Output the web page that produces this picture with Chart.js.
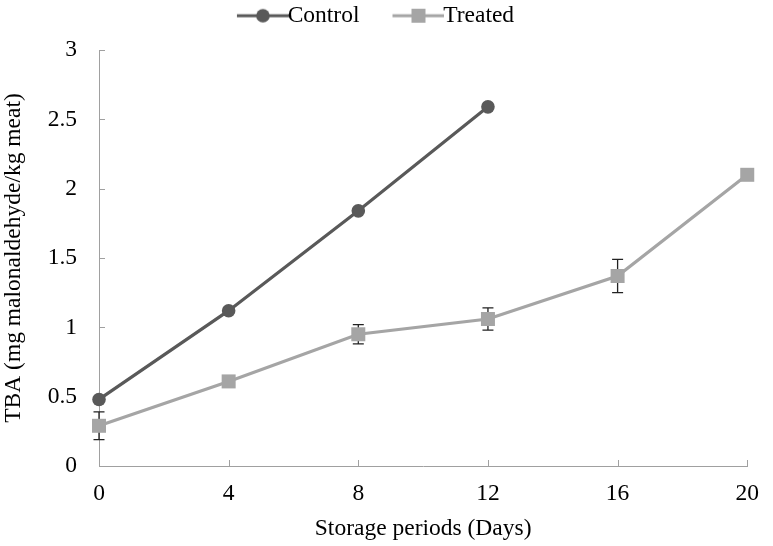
<!DOCTYPE html>
<html><head><meta charset="utf-8">
<script src="https://cdn.jsdelivr.net/npm/chart.js@4"></script>
<style>html,body{margin:0;padding:0;background:#fff;}</style>
</head><body>
<canvas id="c" width="773" height="546" style="display:block"></canvas>
<script>
const days = [0, 4, 8, 12, 16, 20];
const controlDays = [0, 4, 8, 12];
const controlValues = [0.48, 1.12, 1.84, 2.59];
const controlErrors = [0, 0.02, 0, 0];
const treatedValues = [0.29, 0.61, 0.95, 1.06, 1.37, 2.10];
const treatedErrors = [0.10, 0, 0.07, 0.08, 0.12, 0];
const xTicks = [0, 4, 8, 12, 16, 20];
const yTicks = [0, 0.5, 1, 1.5, 2, 2.5, 3];
const yTickLabels = ['0', '0.5', '1', '1.5', '2', '2.5', '3'];
const seriesNames = ['Control', 'Treated'];
const xTitle = 'Storage periods (Days)';
const yTitle = 'TBA (mg malonaldehyde/kg meat)';

const FONT = '"Liberation Serif", "Times New Roman", serif';
const FS = 23.5;
const C_CTRL = '#595959';
const C_TRT = '#a5a5a5';
const AXIS = '#a0a0a0';
const BOXW = 71;

function legendImg(color, style) {
  const w = 97, h = 20;
  const cv = document.createElement('canvas');
  cv.width = w; cv.height = h;
  const g = cv.getContext('2d');
  g.strokeStyle = color; g.lineWidth = 3.2;
  g.beginPath(); g.moveTo(w - 52, h / 2); g.lineTo(w, h / 2); g.stroke();
  g.fillStyle = color;
  const cx = w - 26;
  if (style === 'circle') { g.beginPath(); g.arc(cx, h / 2, 6.8, 0, Math.PI * 2); g.fill(); }
  else { g.fillRect(cx - 7, h / 2 - 7, 14, 14); }
  return cv;
}

const errorBars = {
  id: 'errorBars',
  beforeDatasetsDraw(chart) {
    const ctx = chart.ctx, ys = chart.scales.y;
    const errs = [controlErrors, treatedErrors];
    ctx.save();
    ctx.strokeStyle = '#222'; ctx.lineWidth = 1.3;
    chart.data.datasets.forEach((ds, di) => {
      const meta = chart.getDatasetMeta(di);
      meta.data.forEach((pt, i) => {
        const e = errs[di][i];
        if (!e) return;
        const v = ds.data[i].y;
        const x = pt.x, y1 = ys.getPixelForValue(v + e), y2 = ys.getPixelForValue(v - e);
        ctx.beginPath();
        ctx.moveTo(x, y1); ctx.lineTo(x, y2);
        ctx.moveTo(x - 5.5, y1); ctx.lineTo(x + 5.5, y1);
        ctx.moveTo(x - 5.5, y2); ctx.lineTo(x + 5.5, y2);
        ctx.stroke();
      });
    });
    ctx.restore();
  }
};

const innerTicks = {
  id: 'innerTicks',
  beforeDatasetsDraw(chart) {
    const ctx = chart.ctx, xs = chart.scales.x, ys = chart.scales.y;
    const a = chart.chartArea;
    ctx.save();
    ctx.strokeStyle = AXIS; ctx.lineWidth = 1;
    ctx.beginPath();
    xTicks.forEach(v => { const x = Math.round(xs.getPixelForValue(v)) + 0.5; ctx.moveTo(x, a.bottom); ctx.lineTo(x, a.bottom - 6); });
    yTicks.forEach(v => { const y = Math.round(ys.getPixelForValue(v)) + 0.5; ctx.moveTo(a.left, y); ctx.lineTo(a.left + 6, y); });
    ctx.stroke();
    ctx.restore();
  }
};

const legendTweak = {
  id: 'legendTweak',
  beforeLayout(chart) {
    const lg = chart.legend;
    if (lg && !lg._patched) {
      const orig = lg.fit;
      lg.fit = function () { orig.call(this); this.height = 50; };
      lg._patched = true;
    }
  },
  afterLayout(chart) {
    const lg = chart.legend;
    if (lg) { lg.left -= 19; lg.right -= 19; lg.top += 3; lg.bottom += 3; }
  }
};

new Chart(document.getElementById('c'), {
  type: 'line',
  data: {
    datasets: [
      {
        label: seriesNames[0],
        data: controlDays.map((d, i) => ({ x: d, y: controlValues[i] })),
        borderColor: C_CTRL, backgroundColor: C_CTRL, borderWidth: 3.2,
        pointStyle: 'circle', pointRadius: 6.8, pointBorderWidth: 0,
        pointBackgroundColor: C_CTRL, tension: 0, clip: false
      },
      {
        label: seriesNames[1],
        data: days.map((d, i) => ({ x: d, y: treatedValues[i] })),
        borderColor: C_TRT, backgroundColor: C_TRT, borderWidth: 3.2,
        pointStyle: 'rect', pointRadius: 9.9, pointBorderWidth: 0,
        pointBackgroundColor: C_TRT, tension: 0, clip: false
      }
    ]
  },
  options: {
    responsive: false,
    animation: false,
    devicePixelRatio: 1,
    layout: { padding: { left: 0, right: 16, top: 0, bottom: 0 } },
    plugins: {
      tooltip: { enabled: false },
      legend: {
        position: 'top',
        labels: {
          usePointStyle: true,
          pointStyleWidth: BOXW,
          padding: 1,
          color: '#000',
          font: { family: FONT, size: FS },
          generateLabels(chart) {
            return chart.data.datasets.map((ds, i) => ({
              text: ds.label,
              pointStyle: legendImg(ds.borderColor, i === 0 ? 'circle' : 'rect'),
              fillStyle: ds.borderColor, strokeStyle: ds.borderColor,
              lineWidth: 0, hidden: false, datasetIndex: i, fontColor: '#000'
            }));
          }
        }
      }
    },
    scales: {
      x: {
        type: 'linear', min: 0, max: 20,
        afterBuildTicks: s => { s.ticks = xTicks.map(v => ({ value: v })); },
        afterFit: s => { s.height = 80; },
        grid: { display: true, drawOnChartArea: false, drawTicks: false },
        border: { display: true, color: AXIS, width: 1 },
        ticks: { padding: 14, color: '#000', font: { family: FONT, size: FS }, maxRotation: 0,
          callback: v => String(xTicks[xTicks.indexOf(v)]) },
        title: { display: true, text: xTitle, color: '#000', font: { family: FONT, size: FS }, padding: { top: 0, bottom: 3 } }
      },
      y: {
        type: 'linear', min: 0, max: 3,
        afterBuildTicks: s => { s.ticks = yTicks.map(v => ({ value: v })); },
        afterFit: s => { s.width = 99; },
        grid: { display: true, drawOnChartArea: false, drawTicks: false },
        border: { display: true, color: AXIS, width: 1 },
        ticks: { padding: 22, color: '#000', font: { family: FONT, size: FS },
          callback: v => yTickLabels[yTicks.indexOf(v)] },
        title: { display: true, text: yTitle, color: '#000', font: { family: FONT, size: FS }, padding: { top: 0, bottom: 0 } }
      }
    }
  },
  plugins: [legendTweak, errorBars, innerTicks]
});
</script>
</body></html>
